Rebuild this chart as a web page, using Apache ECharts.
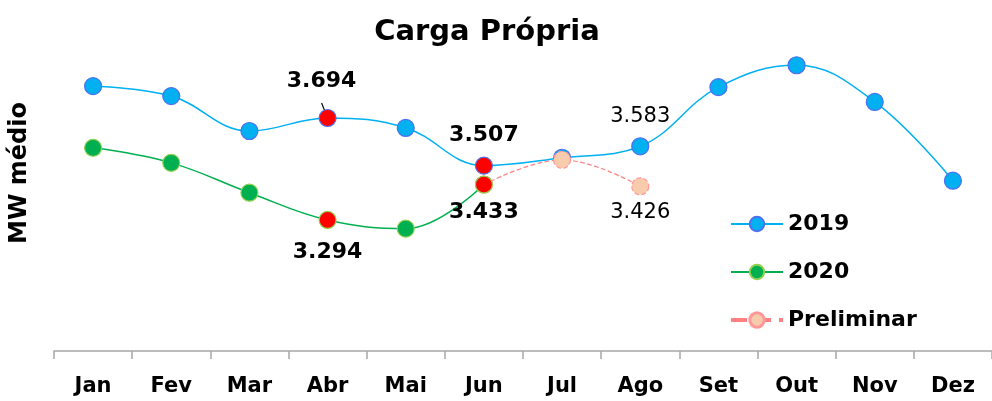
<!DOCTYPE html>
<html><head><meta charset="utf-8">
<script src="https://cdn.jsdelivr.net/npm/echarts@6/dist/echarts.min.js"></script>
<style>html,body{margin:0;padding:0;background:#fff}#c{width:992px;height:401px}</style>
</head><body><div id="c"></div>
<script>
const categories = ['Jan','Fev','Mar','Abr','Mai','Jun','Jul','Ago','Set','Out','Nov','Dez'];
const values2019 = [3.819,3.780,3.643,3.694,3.655,3.507,3.538,3.583,3.815,3.901,3.757,3.448];
const values2020 = [3.577,3.518,3.401,3.294,3.260,3.433];
const valuesPrelim = [null,null,null,null,null,3.433,3.530,3.426];
const seriesNames = ['2019','2020','Preliminar'];

const FONT = '"DejaVu Sans", sans-serif';
const bold = (size, pos, off) => ({show:true, position:pos, distance:off, fontFamily:FONT, fontWeight:'bold', fontSize:size, color:'#000', formatter:p=>p.value.toFixed(3)});

function build2019(){
  return values2019.map((v,i)=>{
    const d = {value:v};
    if(i===3){ d.itemStyle={color:'#FF0000'}; d.label={show:true,position:'top',offset:[-6,-13],distance:4,fontFamily:FONT,fontWeight:'bold',fontSize:22,color:'#000',formatter:p=>p.value.toFixed(3)}; d.labelLine={show:true,lineStyle:{color:'#000',width:1.2}}; }
    if(i===5){ d.itemStyle={color:'#FF0000'}; d.label=bold(22,'top',10); }
    if(i===7){ d.label={show:true,position:'top',distance:10,fontFamily:FONT,fontSize:21,color:'#000',formatter:p=>p.value.toFixed(3)}; }
    return d;
  });
}
function build2020(){
  return values2020.map((v,i)=>{
    const d = {value:v};
    if(i===3){ d.itemStyle={color:'#FF0000'}; d.label=bold(22,'bottom',12); }
    if(i===5){ d.itemStyle={color:'#FF0000'}; d.label=bold(22,'bottom',8); }
    return d;
  });
}
function buildPrelim(){
  return valuesPrelim.map((v,i)=>{
    const d = {value:v};
    if(i===7){ d.label={show:true,position:'bottom',distance:7,fontFamily:FONT,fontSize:21,color:'#000',formatter:p=>p.value.toFixed(3)}; }
    return d;
  });
}

const chart = echarts.init(document.getElementById('c'), null, {renderer:'canvas'});
chart.setOption({
  animation:false,
  backgroundColor:'#fff',
  title:{text:'Carga Própria', left:482, top:13, textAlign:'center', textStyle:{fontFamily:FONT, fontWeight:'bold', fontSize:29, color:'#000'}},
  graphic:[{type:'text', left:8, top:102, rotation:Math.PI/2, style:{text:'MW médio', font:'bold 24px "DejaVu Sans", sans-serif', fill:'#000'}}],
  grid:{left:54, top:40, width:942, bottom:50},
  legend:{
    orient:'vertical', left:724, top:208, itemGap:26, itemWidth:52, itemHeight:18,
    textStyle:{fontFamily:FONT, fontWeight:'bold', fontSize:22, color:'#000'},
    data:[{name:'2019'},{name:'2020'},{name:'Preliminar', lineStyle:{width:4}, itemStyle:{borderWidth:3}}]
  },
  xAxis:{type:'category', data:categories, boundaryGap:true,
    axisLine:{show:true, lineStyle:{color:'#A6A6A6', width:1.5}},
    axisTick:{show:true, length:8, interval:0, lineStyle:{color:'#A6A6A6', width:1.5}},
    axisLabel:{margin:25, fontFamily:FONT, fontWeight:'bold', fontSize:21, color:'#000'}},
  yAxis:{type:'value', min:2.78, max:4.0, show:false},
  series:[
    {name:seriesNames[0], type:'line', smooth:0.4, data:build2019(), symbol:'circle', symbolSize:17,
      lineStyle:{color:'#00B0F0', width:1.5}, itemStyle:{color:'#00B0F0', borderColor:'#4F6FEF', borderWidth:1.2}, z:2},
    {name:seriesNames[1], type:'line', smooth:0.4, data:build2020(), symbol:'circle', symbolSize:17,
      lineStyle:{color:'#00B050', width:1.5}, itemStyle:{color:'#00B050', borderColor:'#92D050', borderWidth:1.2}, z:4},
    {name:seriesNames[2], type:'line', smooth:0.4, data:buildPrelim(), symbol:'circle', symbolSize:17, connectNulls:false,
      lineStyle:{color:'#FF8080', width:1.2, type:'dashed'}, itemStyle:{color:'#F8CBAD', borderColor:'#FF9999', borderWidth:1.2, borderType:'dashed'}, z:3}
  ]
});
</script></body></html>
